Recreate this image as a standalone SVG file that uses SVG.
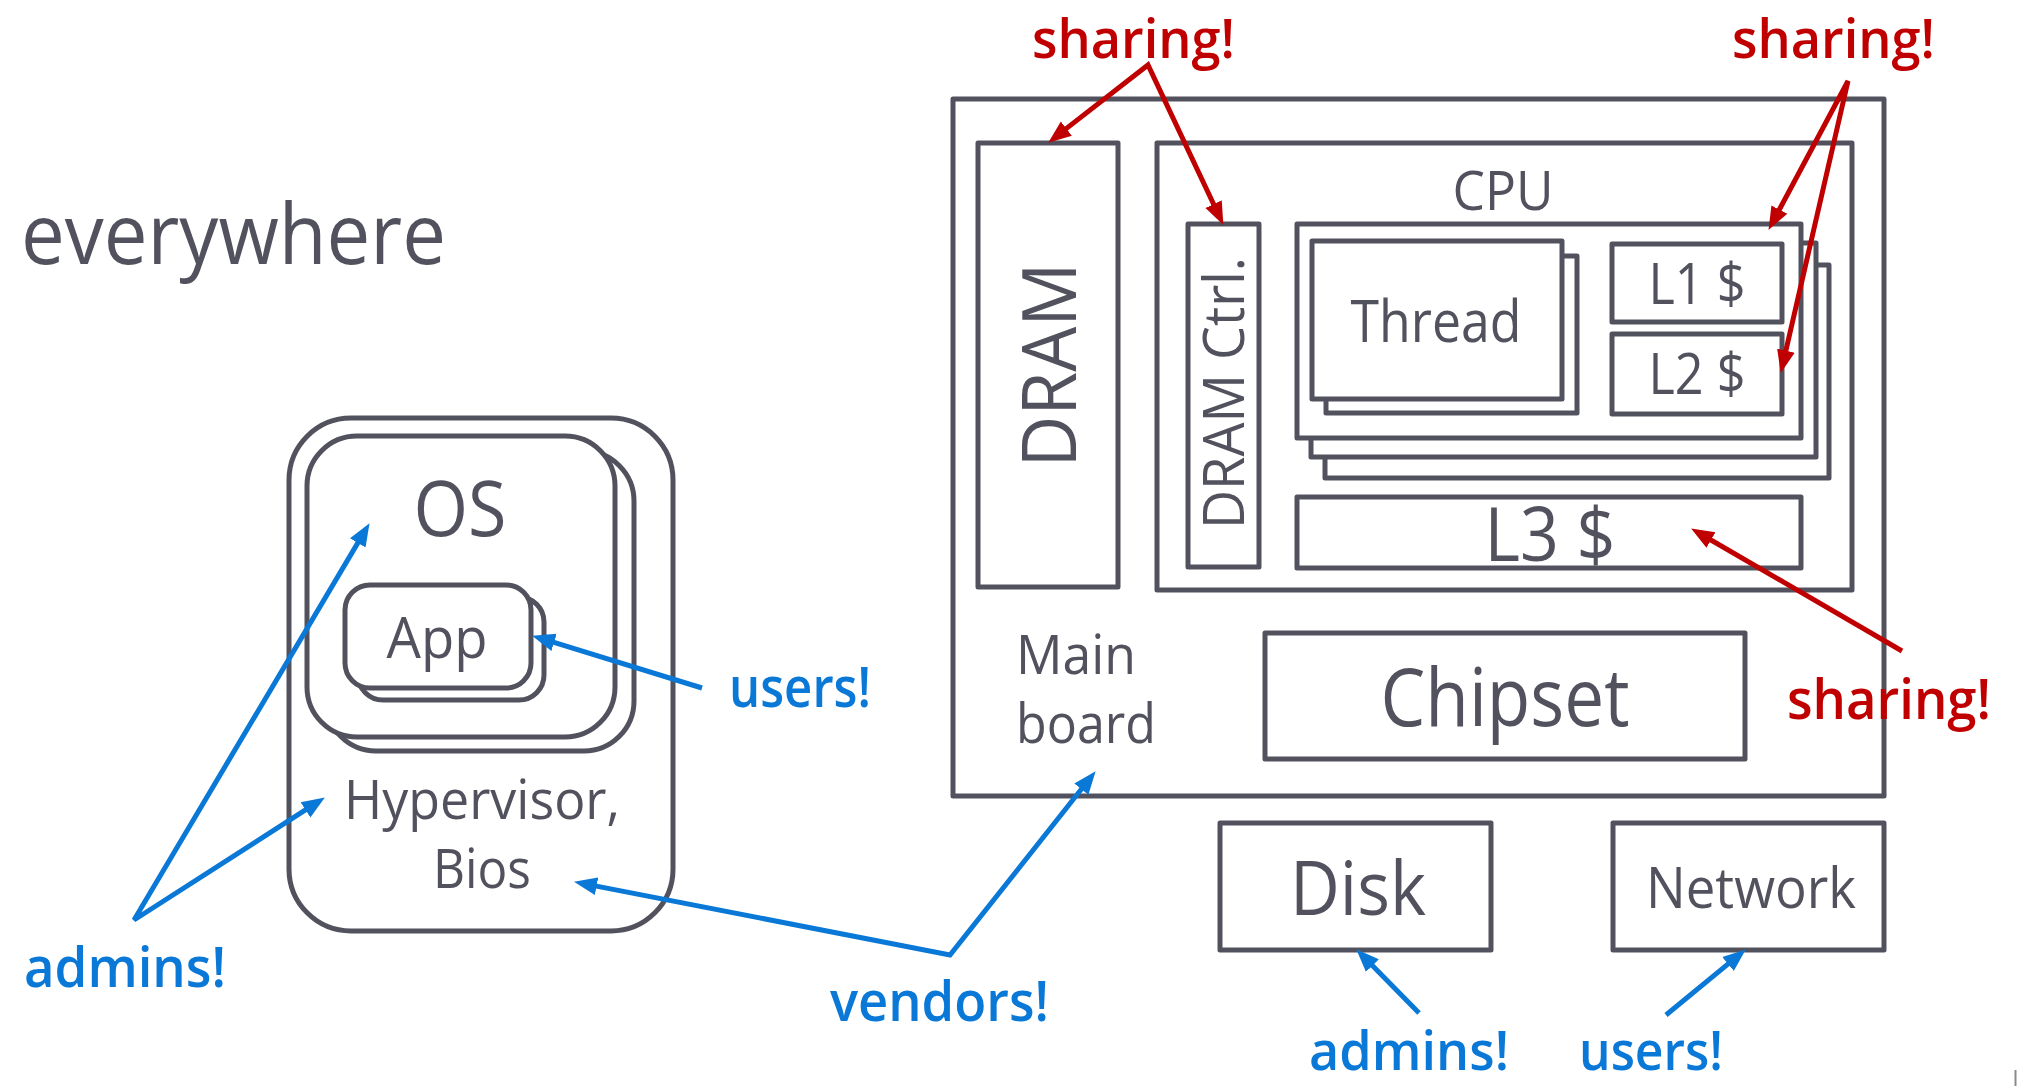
<svg xmlns="http://www.w3.org/2000/svg" width="2017" height="1086" viewBox="0 0 2017 1086">
<style>
  .box{fill:#fff;stroke:#52525e;stroke-width:5;stroke-linejoin:round}
  .t{font-family:"Open Sans","Noto Sans","Liberation Sans",sans-serif;fill:#52525e;font-weight:400}
  .m{text-anchor:middle}
  .blue{font-family:"Open Sans","Noto Sans","Liberation Sans",sans-serif;fill:#0a78d6;font-weight:600}
  .red{font-family:"Open Sans","Noto Sans","Liberation Sans",sans-serif;fill:#c00000;font-weight:600}
  .ab{fill:none;stroke:#0a78d6;stroke-width:5;stroke-linejoin:miter}
  .ar{fill:none;stroke:#c00000;stroke-width:5;stroke-linejoin:miter}
</style>
<defs>
  <marker id="hb" markerUnits="userSpaceOnUse" markerWidth="24" markerHeight="20" refX="12" refY="9" orient="auto-start-reverse" viewBox="0 0 24 18">
    <path d="M0,0 L23,9 L0,18 z" fill="#0a78d6"/>
  </marker>
  <marker id="hr" markerUnits="userSpaceOnUse" markerWidth="24" markerHeight="20" refX="12" refY="9" orient="auto-start-reverse" viewBox="0 0 24 18">
    <path d="M0,0 L23,9 L0,18 z" fill="#c00000"/>
  </marker>
</defs>
<rect width="2017" height="1086" fill="#fff"/>

<text id="title" class="t" x="21" y="264" font-size="84" textLength="425" lengthAdjust="spacingAndGlyphs">everywhere</text>

<g id="hypervisor">
  <rect class="box" x="289" y="418" width="384" height="513" rx="62"/>
  <text class="t m" x="482" y="819" font-size="55" textLength="276" lengthAdjust="spacingAndGlyphs">Hypervisor,</text>
  <text class="t m" x="482" y="888" font-size="55" textLength="98" lengthAdjust="spacingAndGlyphs">Bios</text>
</g>
<g id="os">
  <rect class="box" x="326" y="451" width="308" height="300" rx="50"/>
  <rect class="box" x="307" y="436" width="308" height="301" rx="50"/>
  <text class="t m" x="460" y="536" font-size="77" textLength="93" lengthAdjust="spacingAndGlyphs">OS</text>
</g>
<g id="app">
  <rect class="box" x="358" y="597" width="186" height="103" rx="25"/>
  <rect class="box" x="345" y="585" width="186" height="103" rx="25"/>
  <text class="t m" x="437" y="658" font-size="56" textLength="101" lengthAdjust="spacingAndGlyphs">App</text>
</g>

<g id="mainboard">
  <rect class="box" x="953" y="99" width="931" height="697"/>
  <text class="t" x="1016" y="674" font-size="55" textLength="120" lengthAdjust="spacingAndGlyphs">Main</text>
  <text class="t" x="1016" y="743" font-size="55" textLength="140" lengthAdjust="spacingAndGlyphs">board</text>
</g>
<g id="dram">
  <rect class="box" x="978" y="143" width="140" height="444"/>
  <text class="t m" transform="translate(1076,365) rotate(-90)" font-size="75" textLength="205" lengthAdjust="spacingAndGlyphs">DRAM</text>
</g>
<g id="cpu">
  <rect class="box" x="1157" y="143" width="695" height="447"/>
  <text class="t m" x="1503" y="210" font-size="55" textLength="101" lengthAdjust="spacingAndGlyphs">CPU</text>
</g>
<g id="dramctrl">
  <rect class="box" x="1188" y="224" width="71" height="343"/>
  <text class="t m" transform="translate(1244,393) rotate(-90)" font-size="56" textLength="272" lengthAdjust="spacingAndGlyphs">DRAM Ctrl.</text>
</g>
<g id="core">
  <rect class="box" x="1325" y="265" width="504" height="213"/>
  <rect class="box" x="1311" y="243" width="505" height="214"/>
  <rect class="box" x="1297" y="224" width="504" height="214"/>
</g>
<g id="thread">
  <rect class="box" x="1326" y="256" width="251" height="157"/>
  <rect class="box" x="1312" y="241" width="250" height="158"/>
  <text class="t m" x="1436" y="342" font-size="58" textLength="171" lengthAdjust="spacingAndGlyphs">Thread</text>
</g>
<g id="l1">
  <rect class="box" x="1612" y="244" width="170" height="78"/>
  <text class="t m" x="1697" y="304" font-size="57" textLength="97" lengthAdjust="spacingAndGlyphs">L1 $</text>
</g>
<g id="l2">
  <rect class="box" x="1612" y="334" width="170" height="80"/>
  <text class="t m" x="1697" y="394" font-size="57" textLength="97" lengthAdjust="spacingAndGlyphs">L2 $</text>
</g>
<g id="l3">
  <rect class="box" x="1297" y="497" width="504" height="71"/>
  <text class="t m" x="1550" y="561" font-size="75" textLength="131" lengthAdjust="spacingAndGlyphs">L3 $</text>
</g>
<g id="chipset">
  <rect class="box" x="1265" y="633" width="480" height="126"/>
  <text class="t m" x="1505" y="726" font-size="80" textLength="249" lengthAdjust="spacingAndGlyphs">Chipset</text>
</g>
<g id="disk">
  <rect class="box" x="1220" y="823" width="271" height="127"/>
  <text class="t m" x="1358" y="915" font-size="75" textLength="136" lengthAdjust="spacingAndGlyphs">Disk</text>
</g>
<g id="network">
  <rect class="box" x="1613" y="823" width="271" height="127"/>
  <text class="t m" x="1751" y="908" font-size="57" textLength="210" lengthAdjust="spacingAndGlyphs">Network</text>
</g>

<g id="connectors">
  <polyline class="ar" points="1056.9,135.9 1148,65 1218.7,215" marker-start="url(#hr)" marker-end="url(#hr)"/>
  <polyline class="ar" points="1773.7,220.2 1848,81 1783.2,362.3" marker-start="url(#hr)" marker-end="url(#hr)"/>
  <line class="ar" x1="1902" y1="651" x2="1700.6" y2="534" marker-end="url(#hr)"/>
  <polyline class="ab" points="363.9,532.6 134,920 315.6,803.4" marker-start="url(#hb)" marker-end="url(#hb)"/>
  <line class="ab" x1="702" y1="688" x2="542.6" y2="638.9" marker-end="url(#hb)"/>
  <polyline class="ab" points="584.8,883.9 950,955 1088.8,779.8" marker-start="url(#hb)" marker-end="url(#hb)"/>
  <line class="ab" x1="1419" y1="1013" x2="1364" y2="957.1" marker-end="url(#hb)"/>
  <line class="ab" x1="1666" y1="1015" x2="1737.3" y2="956.4" marker-end="url(#hb)"/>
</g>

<g id="labels">
  <text class="red" x="1032" y="58" font-size="54" textLength="203" lengthAdjust="spacingAndGlyphs">sharing!</text>
  <text class="red" x="1732" y="58" font-size="54" textLength="203" lengthAdjust="spacingAndGlyphs">sharing!</text>
  <text class="red" x="1787" y="719" font-size="56" textLength="204" lengthAdjust="spacingAndGlyphs">sharing!</text>
  <text class="blue" x="729" y="707" font-size="56" textLength="142" lengthAdjust="spacingAndGlyphs">users!</text>
  <text class="blue" x="24" y="987" font-size="56" textLength="202" lengthAdjust="spacingAndGlyphs">admins!</text>
  <text class="blue" x="830" y="1021" font-size="56" textLength="219" lengthAdjust="spacingAndGlyphs">vendors!</text>
  <text class="blue" x="1309" y="1070" font-size="54" textLength="200" lengthAdjust="spacingAndGlyphs">admins!</text>
  <text class="blue" x="1579" y="1070" font-size="54" textLength="144" lengthAdjust="spacingAndGlyphs">users!</text>
</g>
<line x1="2015.5" y1="1070" x2="2015.5" y2="1086" stroke="#8a8a8a" stroke-width="2"/>
</svg>
